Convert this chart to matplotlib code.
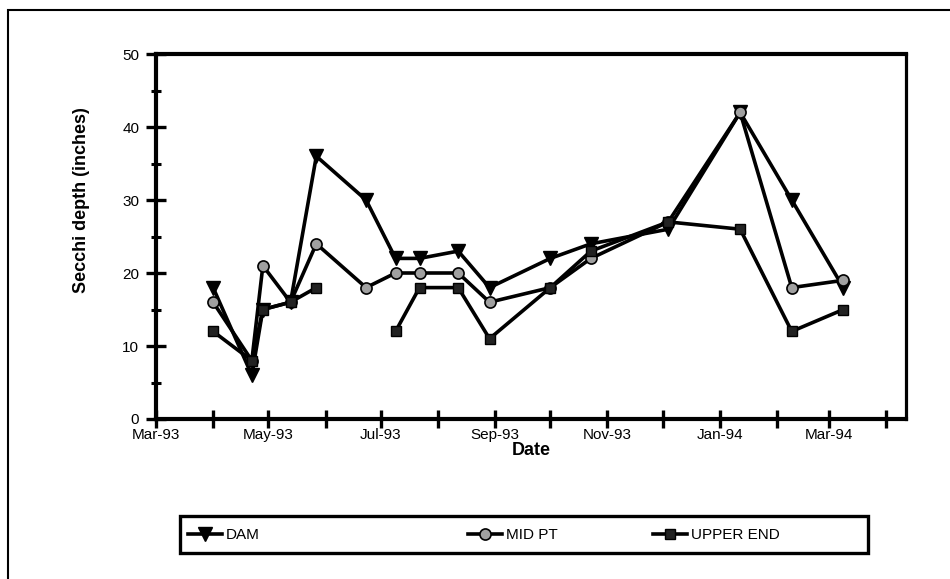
import numpy as np
import pandas as pd
import matplotlib
matplotlib.use('Agg')
import matplotlib.pyplot as plt
import matplotlib.dates as mdates
from matplotlib.lines import Line2D
from matplotlib.patches import Rectangle

plt.rcParams['font.family'] = ['Liberation Sans', 'DejaVu Sans']

# sampling dates (shared by the three stations)
dates = pd.to_datetime(['1993-04-01', '1993-04-22', '1993-04-28', '1993-05-13',
                        '1993-05-27', '1993-06-23', '1993-07-09', '1993-07-22',
                        '1993-08-12', '1993-08-29', '1993-10-01', '1993-10-23',
                        '1993-12-04', '1994-01-12', '1994-02-09', '1994-03-09'])
dam = [18, 6, 15, 16, 36, 30, 22, 22, 23, 18, 22, 24, 26, 42, 30, 18]
mid_pt = [16, 8, 21, 16, 24, 18, 20, 20, 20, 16, 18, 22, 27, 42, 18, 19]
upper_end = [12, 8, 15, 16, 18, np.nan, 12, 18, 18, 11, 18, 23, 27, 26, 12, 15]

series_names = ['DAM', 'MID PT', 'UPPER END']

fig = plt.figure(figsize=(9.5, 5.79), dpi=100)
ax = fig.add_axes([156/950, 1-419/579, (906-156)/950, (419-54)/579])

lw = 2.6
ax.plot(dates, dam, color='k', lw=lw, marker='v', ms=10, mfc='k', mec='k')
ax.plot(dates, mid_pt, color='k', lw=lw, marker='o', ms=8, mfc='#a0a0a0', mec='k', mew=1.2)
ax.plot(dates, upper_end, color='k', lw=lw, marker='s', ms=7.5, mfc='#222222', mec='k')

ax.set_ylim(0, 50)
ax.set_xlim(pd.Timestamp('1993-03-01'), pd.Timestamp('1994-04-12'))

ax.yaxis.set_major_locator(plt.MultipleLocator(10))
ax.yaxis.set_minor_locator(plt.MultipleLocator(5))
ax.xaxis.set_major_locator(mdates.MonthLocator(bymonth=range(1, 13, 2)))
ax.xaxis.set_minor_locator(mdates.MonthLocator())
ax.xaxis.set_major_formatter(mdates.DateFormatter('%b-%y'))

ax.tick_params(axis='y', which='major', direction='inout', length=14, width=2.4,
               labelsize=11, pad=5)
ax.tick_params(axis='y', which='minor', direction='inout', length=7, width=2.2)
ax.tick_params(axis='x', which='both', direction='inout', length=13, width=2.4,
               labelsize=11, pad=0)

for side in ['left', 'bottom', 'top']:
    ax.spines[side].set_linewidth(3)
ax.spines['right'].set_linewidth(2.3)

ax.set_xlabel('Date', fontsize=13, fontweight='bold', labelpad=0)
ax.set_ylabel('Secchi depth (inches)', fontsize=13, fontweight='bold')
ax.yaxis.set_label_coords(-0.088, 0.6)

# legend entries, placed one by one inside a common box
handles = [
    Line2D([], [], color='k', lw=lw, marker='v', ms=10, mfc='k', mec='k'),
    Line2D([], [], color='k', lw=lw, marker='o', ms=8, mfc='#a0a0a0', mec='k', mew=1.2),
    Line2D([], [], color='k', lw=lw, marker='s', ms=7.5, mfc='#222222', mec='k'),
]
legend_x = [188/950, 468/950, 653/950]
for h, name, lx in zip(handles, series_names, legend_x):
    fig.legend(handles=[h], labels=[name], loc='center left',
               bbox_to_anchor=(lx, 1-535/579), frameon=False, fontsize=11,
               handlelength=2.2, handletextpad=0.3, borderpad=0, borderaxespad=0)
fig.patches.append(Rectangle((180/950, 1-553/579), (868-180)/950, (553-516)/579,
                             transform=fig.transFigure, fill=False, ec='k', lw=2.4))

# outer frame of the figure (cut off at right and bottom)
fig.patches.append(Rectangle((8/950, -0.2), 1.2, 1.2 - 10/579,
                             transform=fig.transFigure, fill=False, ec='k', lw=1.5,
                             clip_on=False))

fig.savefig('out.png', dpi=100)
